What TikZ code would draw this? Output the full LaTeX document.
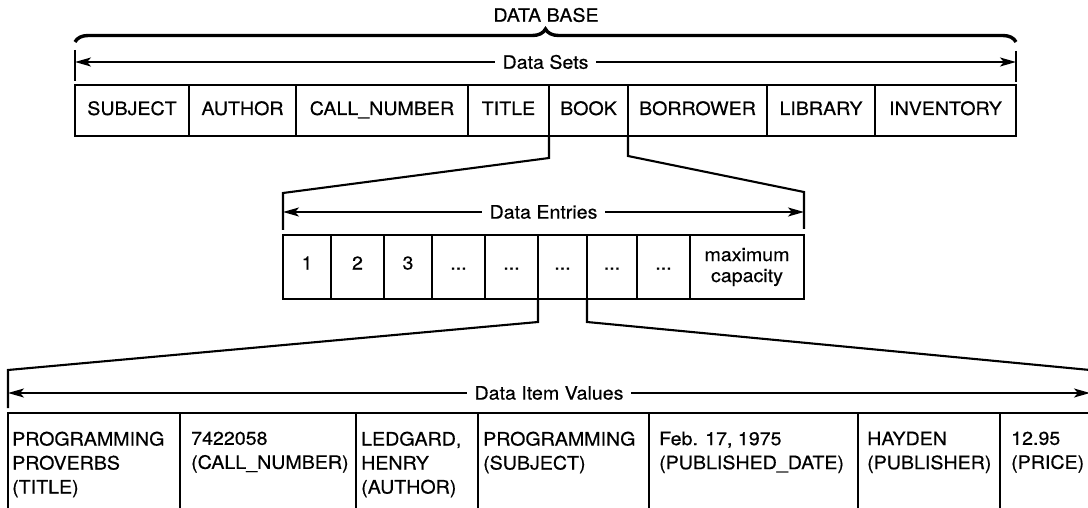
\documentclass[tikz,border=0pt]{standalone}
\usepackage{fontspec}
\setmainfont{TeX Gyre Heros}[FakeStretch=1.06,FakeBold=0.4]
\usetikzlibrary{positioning,arrows.meta,decorations.pathreplacing}

\tikzset{
  cellbox/.style={draw,line width=2.6pt,inner sep=0pt,outer sep=0pt},
  setcell/.style={cellbox,minimum height=51pt,text height=13pt,text depth=4pt},
  entcell/.style={cellbox,minimum height=64pt,text height=13pt,text depth=8pt},
  itemcell/.style={cellbox,minimum height=120pt},
  itemtext/.style={anchor=north west,align=left,inner sep=0pt},
  zoomline/.style={line width=2.1pt},
  span/.style={zoomline,{Stealth[length=16pt,width=9pt,inset=4pt]}-{Stealth[length=16pt,width=9pt,inset=4pt]}},
  spanlabel/.style={fill=white,inner xsep=8pt,inner ysep=2pt}
}

\begin{document}
\begin{tikzpicture}[x=1pt,y=-1pt,font=\fontsize{18.5}{24}\selectfont]
  \useasboundingbox (0,0) rectangle (1088,508);

  % data base
  \node (db) at (546,15) {DATA BASE};
  \draw[line width=3.4pt,decorate,decoration={brace,amplitude=13pt}] (75,42) -- (1016,42);

  % data sets
  \node[setcell,minimum width=114pt,anchor=north west] (subject) at (75,85) {SUBJECT};
  \node[setcell,minimum width=107pt,right=0pt of subject] (author) {AUTHOR};
  \node[setcell,minimum width=172pt,right=0pt of author] (callno) {CALL\_NUMBER};
  \node[setcell,minimum width=81pt,right=0pt of callno] (title) {TITLE};
  \node[setcell,minimum width=79pt,right=0pt of title] (book) {BOOK};
  \node[setcell,minimum width=139pt,right=0pt of book] (borrower) {BORROWER};
  \node[setcell,minimum width=108pt,right=0pt of borrower] (library) {LIBRARY};
  \node[setcell,minimum width=141pt,right=0pt of library] (inventory) {INVENTORY};

  \coordinate (dsa) at (75,50);
  \coordinate (dsb) at (75,81);
  \coordinate (dsc) at (1016,51);
  \coordinate (dsd) at (1016,82);
  \draw[zoomline] (dsa) -- (dsb);
  \draw[zoomline] (dsc) -- (dsd);
  \draw[span] (75,62) -- node[spanlabel] {Data Sets} (1016,62);

  % data entries
  \node[entcell,minimum width=48pt,anchor=north west] (e1) at (283,235) {1};
  \node[entcell,minimum width=53pt,right=0pt of e1] (e2) {2};
  \node[entcell,minimum width=48pt,right=0pt of e2] (e3) {3};
  \node[entcell,minimum width=53pt,right=0pt of e3] (e4) {...};
  \node[entcell,minimum width=53pt,right=0pt of e4] (e5) {...};
  \node[entcell,minimum width=49pt,right=0pt of e5] (e6) {...};
  \node[entcell,minimum width=50pt,right=0pt of e6] (e7) {...};
  \node[entcell,minimum width=53pt,right=0pt of e7] (e8) {...};
  \node[cellbox,minimum height=64pt,minimum width=114pt,align=center,
    font=\fontsize{18.5}{21}\selectfont,right=0pt of e8] (emax) {maximum\\capacity};

  \coordinate (entl) at (283,193);
  \coordinate (entr) at (804,192);
  \draw[zoomline] (book.south west) -- ++(0,22) -- (entl) -- ++(0,37);
  \draw[zoomline] (book.south east) -- ++(0,20) -- (entr) -- ++(0,37);
  \draw[span] (283,212) -- node[spanlabel] {Data Entries} (804,212);

  % data item values
  \node[itemcell,minimum width=172pt,anchor=north west] (ititle) at (8,413) {};
  \node[itemcell,minimum width=176pt,right=0pt of ititle] (icall) {};
  \node[itemcell,minimum width=122pt,right=0pt of icall] (iauthor) {};
  \node[itemcell,minimum width=171pt,right=0pt of iauthor] (isubject) {};
  \node[itemcell,minimum width=209pt,right=0pt of isubject] (idate) {};
  \node[itemcell,minimum width=142pt,right=0pt of idate] (ipub) {};
  \node[itemcell,minimum width=90pt,right=0pt of ipub] (iprice) {};

  \node[itemtext] (ttitle) at ([xshift=4pt,yshift=-18.5pt]ititle.north west) {PROGRAMMING\\PROVERBS\\(TITLE)};
  \node[itemtext] (tcall) at ([xshift=11pt,yshift=-18.5pt]icall.north west) {7422058\\(CALL\_NUMBER)};
  \node[itemtext] (tauthor) at ([xshift=5pt,yshift=-18.5pt]iauthor.north west) {LEDGARD,\\HENRY\\(AUTHOR)};
  \node[itemtext] (tsubject) at ([xshift=5pt,yshift=-18.5pt]isubject.north west) {PROGRAMMING\\(SUBJECT)};
  \node[itemtext] (tdate) at ([xshift=10pt,yshift=-18.5pt]idate.north west) {Feb. 17, 1975\\(PUBLISHED\_DATE)};
  \node[itemtext] (tpub) at ([xshift=9pt,yshift=-18.5pt]ipub.north west) {HAYDEN\\(PUBLISHER)};
  \node[itemtext] (tprice) at ([xshift=11pt,yshift=-18.5pt]iprice.north west) {12.95\\(PRICE)};

  \coordinate (iteml) at (8,370);
  \coordinate (itemr) at (1090,370);
  \draw[zoomline] (e5.south east) -- ++(0,23) -- (iteml) -- ++(0,38);
  \draw[zoomline] (e6.south east) -- ++(0,23) -- (itemr) -- ++(0,38);
  \draw[span] (8,393) -- node[spanlabel] {Data Item Values} (1090,393);
\end{tikzpicture}
\end{document}
